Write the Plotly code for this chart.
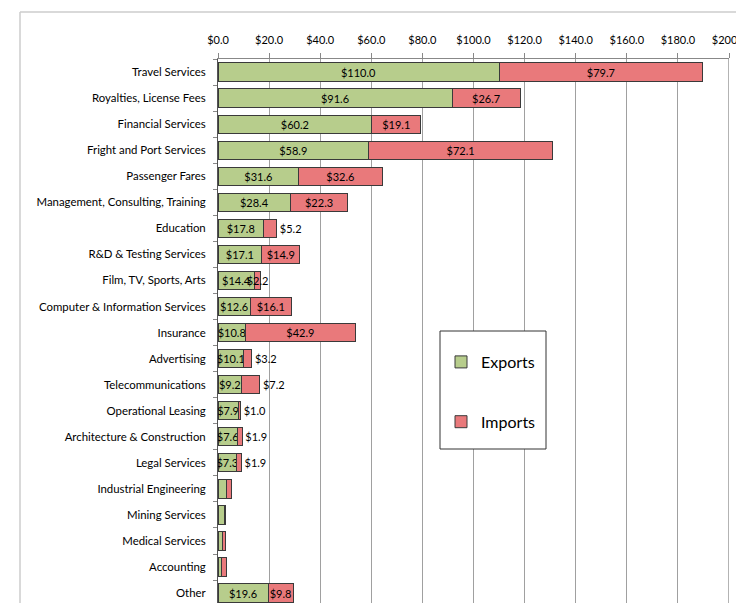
import plotly.graph_objects as go

categories = ["Travel Services", "Royalties, License Fees", "Financial Services",
              "Fright and Port Services", "Passenger Fares",
              "Management, Consulting, Training", "Education", "R&D & Testing Services",
              "Film, TV, Sports, Arts", "Computer & Information Services", "Insurance",
              "Advertising", "Telecommunications", "Operational Leasing",
              "Architecture & Construction", "Legal Services", "Industrial Engineering",
              "Mining Services", "Medical Services", "Accounting", "Other"]
exports = [110.0, 91.6, 60.2, 58.9, 31.6, 28.4, 17.8, 17.1, 14.4, 12.6, 10.8,
           10.1, 9.2, 7.9, 7.6, 7.3, 3.2, 2.7, 1.9, 1.2, 19.6]
imports = [79.7, 26.7, 19.1, 72.1, 32.6, 22.3, 5.2, 14.9, 2.2, 16.1, 42.9,
           3.2, 7.2, 1.0, 1.9, 1.9, 1.9, 0.4, 1.0, 2.2, 9.8]
labeled = [True] * 16 + [False] * 4 + [True]
imports_outside = ["Education", "Advertising", "Telecommunications",
                   "Operational Leasing", "Architecture & Construction", "Legal Services"]
tick_vals = [0, 20, 40, 60, 80, 100, 120, 140, 160, 180, 200]
tick_text = [f"${v:.1f}" for v in tick_vals]

FONT = "Lato, Open Sans, sans-serif"
OFF = 8  # page body margin
W, H = 744 - OFF, 603 - OFF
# absolute target positions of the plot area in the window
PL, PR, PT, PB = 218, 729, 59, 603
ML, MR, MT, MB = PL - OFF, W - (PR - OFF), PT - OFF, H - (PB - OFF)
plot_w = PR - PL
plot_h = PB - PT


def px(xabs):
    return (xabs - PL) / plot_w


def py(yabs):
    return 1 - (yabs - PT) / plot_h


exp_text = [f"${v:.1f}" if l else "" for v, l in zip(exports, labeled)]
imp_text = [f"${v:.1f}" if l else "" for v, l in zip(imports, labeled)]
imp_pos = ["outside" if c in imports_outside else "inside" for c in categories]

fig = go.Figure()
fig.add_trace(go.Bar(
    y=categories, x=exports, orientation="h", name="Exports",
    marker=dict(color="#B7CD8C", line=dict(color="#3a3a3a", width=1)),
    text=exp_text, textposition="inside", insidetextanchor="middle",
    textangle=0, constraintext="none",
    textfont=dict(family=FONT, size=11, color="black"),
    legendgroup="e",
))
fig.add_trace(go.Bar(
    y=categories, x=imports, orientation="h", name="Imports",
    marker=dict(color="#E9797B", line=dict(color="#3a3a3a", width=1)),
    text=imp_text, textposition=imp_pos, insidetextanchor="middle",
    textangle=0, constraintext="none", cliponaxis=False,
    textfont=dict(family=FONT, size=11, color="black"),
    outsidetextfont=dict(family=FONT, size=11, color="black"),
    legendgroup="i",
))

fig.update_layout(
    width=W, height=H,
    margin=dict(l=ML, r=MR, t=MT, b=MB, pad=0, autoexpand=False),
    barmode="stack", bargap=0.3,
    paper_bgcolor="white", plot_bgcolor="white",
    font=dict(family=FONT, size=12, color="black"),
    xaxis=dict(side="top", range=[0, 200], tickmode="array",
               tickvals=tick_vals, ticktext=tick_text,
               showgrid=True, gridcolor="#a0a0a0", gridwidth=1,
               showline=True, linecolor="#888888", linewidth=1, mirror=False,
               ticks="outside", ticklen=5, tickcolor="#888888",
               ticklabelstandoff=5, ticklabeloverflow="allow",
               tickfont=dict(family=FONT, size=11, color="black"),
               zeroline=False, fixedrange=True, automargin=False),
    yaxis=dict(categoryorder="array", categoryarray=categories,
               range=[20.38, -0.5], autorange=False,
               showline=True, linecolor="#555555", linewidth=1,
               ticks="outside", ticklen=4, tickcolor="#888888", tickson="boundaries",
               tickfont=dict(family=FONT, size=11.4, color="black"),
               ticklabelstandoff=9, fixedrange=True, automargin=False),
    legend=dict(x=px(441), y=py(345),
                xanchor="left", yanchor="top",
                borderwidth=0, bgcolor="rgba(0,0,0,0)",
                font=dict(family=FONT, size=16, color="black"),
                tracegroupgap=36, traceorder="grouped",
                itemwidth=30),
    showlegend=True,
    shapes=[dict(type="line", xref="paper", yref="paper",
                 x0=px(20), x1=px(20), y0=-0.2, y1=py(12),
                 line=dict(color="#cccccc", width=1.5)),
            dict(type="line", xref="paper", yref="paper",
                 x0=px(20), x1=px(760), y0=py(12), y1=py(12),
                 line=dict(color="#cccccc", width=1.5)),
            dict(type="line", xref="x", yref="paper",
                 x0=200, x1=200, y0=0, y1=1,
                 line=dict(color="#666666", width=1)),
            dict(type="rect", xref="paper", yref="paper", layer="above",
                 x0=px(440), x1=px(546), y0=py(449), y1=py(331),
                 fillcolor="white", line=dict(color="#333333", width=1))],
)

fig.write_html("out.html")
